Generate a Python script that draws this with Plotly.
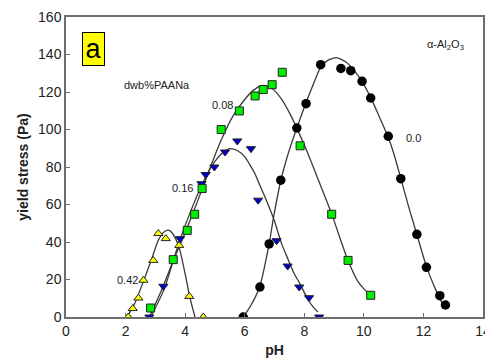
import plotly.graph_objects as go

ph_00 = [5.95, 6.51, 6.82, 7.21, 7.75, 8.06, 8.55, 9.23, 9.56, 9.94, 10.23, 10.82, 11.24, 11.78, 12.10, 12.55, 12.74]
ys_00 = [0, 16, 39, 73, 100.8, 113.8, 134.6, 132.6, 131.4, 125.7, 116.8, 96.4, 73.8, 44.1, 26.5, 11.4, 6.4]

ph_008 = [2.84, 3.60, 4.07, 4.32, 4.57, 5.21, 5.82, 6.35, 6.62, 6.92, 7.26, 7.86, 8.92, 9.47, 10.23]
ys_008 = [4.8, 30.6, 46.2, 54.8, 68.5, 100.0, 109.9, 117.9, 121.3, 123.9, 130.5, 91.3, 54.8, 30.2, 11.6]

ph_016 = [2.80, 3.27, 3.83, 4.55, 4.69, 4.98, 5.34, 5.75, 6.21, 6.45, 7.07, 7.44, 7.83, 8.16, 8.50]
ys_016 = [0, 16.4, 41.8, 71.1, 76.0, 80.0, 88.0, 93.9, 89.8, 62.3, 40.7, 27.2, 16.0, 10.3, 0]

ph_042 = [2.09, 2.24, 2.43, 2.60, 2.93, 3.10, 3.35, 3.80, 4.14, 4.61]
ys_042 = [0, 4.5, 10.1, 19.6, 30.2, 44.5, 41.8, 38.2, 11.0, 0]

# ---- fitted curves ----
fit_ph_00 = [5.95, 6.2, 6.5, 6.82, 6.96, 7.2, 7.4, 7.6, 7.8, 8.05, 8.3, 8.56, 8.8, 9.08, 9.4, 9.7,
             9.94, 10.23, 10.5, 10.8, 11.0, 11.24, 11.5, 11.78, 12.1, 12.4, 12.7]
fit_ys_00 = [0, 6, 16, 39, 52.5, 72, 84, 94, 103, 114, 124, 133.5, 137, 138.3, 136, 131,
             125.5, 117, 107.5, 96.5, 87.5, 74, 59, 44, 27, 15, 5]

fit_ph_008 = [2.8, 3.2, 3.6, 4.0, 4.4, 4.8, 5.2, 5.6, 6.0, 6.3, 6.6, 6.9, 7.2, 7.5, 7.74,
              8.1, 8.5, 8.92, 9.2, 9.47, 9.8, 10.0, 10.23]
fit_ys_008 = [0, 14, 30, 45, 61, 78, 94, 107, 116, 121, 123.5, 122, 117, 109, 101,
              88, 72, 55, 42, 30, 19, 15, 11.6]

fit_ph_016 = [2.85, 3.3, 3.8, 4.2, 4.55, 4.8, 5.0, 5.25, 5.5, 5.75, 6.01, 6.2, 6.34, 6.5,
              6.68, 6.99, 7.24, 7.45, 7.65, 7.85, 8.1, 8.3, 8.46]
fit_ys_016 = [0, 15, 40, 57, 70, 78, 83, 87.5, 89.8, 88.8, 85.3, 80.5, 76.5, 70.5,
              64, 51.6, 39, 31, 23.5, 17.8, 10, 5.3, 2.7]

fit_ph_042 = [2.05, 2.3, 2.6, 2.9, 3.1, 3.3, 3.45, 3.6, 3.8, 4.0, 4.15, 4.33]
fit_ys_042 = [0, 7, 19, 32, 41, 45.5, 46.3, 44, 37, 23, 11, 0]

x_ticks = [0, 2, 4, 6, 8, 10, 12, 14]
y_ticks = [0, 20, 40, 60, 80, 100, 120, 140, 160]

FONT = "Liberation Sans, Arial, Helvetica, sans-serif"
CURVE = dict(color="#3a3a3a", width=1.3, shape="spline", smoothing=0.6)

fig = go.Figure()

for fx, fy in [(fit_ph_00, fit_ys_00), (fit_ph_008, fit_ys_008),
               (fit_ph_016, fit_ys_016), (fit_ph_042, fit_ys_042)]:
    fig.add_trace(go.Scatter(x=fx, y=fy, mode="lines", line=CURVE,
                             hoverinfo="skip", showlegend=False))

fig.add_trace(go.Scatter(x=ph_042, y=ys_042, mode="markers", name="0.42",
                         marker=dict(symbol="triangle-up", size=8, color="#ffff00",
                                     line=dict(color="#222", width=1))))
fig.add_trace(go.Scatter(x=ph_016, y=ys_016, mode="markers", name="0.16",
                         marker=dict(symbol="triangle-down", size=8, color="#0000cc",
                                     line=dict(color="#222", width=1))))
fig.add_trace(go.Scatter(x=ph_008, y=ys_008, mode="markers", name="0.08",
                         marker=dict(symbol="square", size=8, color="#00ee00",
                                     line=dict(color="#222", width=1))))
fig.add_trace(go.Scatter(x=ph_00, y=ys_00, mode="markers", name="0.0",
                         marker=dict(symbol="circle", size=9.5, color="#000000",
                                     line=dict(color="#000", width=0))))

ann = [
    dict(x=0.92, y=142.9, text="a", font=dict(size=27, color="#000", family=FONT),
         bgcolor="#ffff00", bordercolor="#000", borderwidth=1, borderpad=0,
         width=21, height=32, showarrow=False),
    dict(x=3.04, y=123.6, text="dwb%PAANa", font=dict(size=11, color="#222", family=FONT), showarrow=False),
    dict(x=5.25, y=113.3, text="0.08", font=dict(size=11, color="#222", family=FONT), showarrow=False),
    dict(x=3.92, y=69.0, text="0.16", font=dict(size=11, color="#222", family=FONT), showarrow=False),
    dict(x=2.08, y=19.9, text="0.42", font=dict(size=11, color="#222", family=FONT), showarrow=False),
    dict(x=11.66, y=95.5, text="0.0", font=dict(size=11, color="#222", family=FONT), showarrow=False),
    dict(x=12.75, y=145.3, text="α-Al<sub>2</sub>O<sub>3</sub>",
         font=dict(size=11, color="#222", family=FONT), showarrow=False),
]

axis_common = dict(showline=True, linecolor="#6e6e6e", linewidth=1.5, mirror=True,
                   ticks="inside", ticklen=4, tickcolor="#6e6e6e", tickwidth=1,
                   showgrid=False, zeroline=False, automargin=False,
                   tickfont=dict(size=14, color="#222", family=FONT))

# page body has an 8px margin, so the figure is sized/offset to land the
# plot area where the reference has it
fig.update_layout(
    width=485, height=350,
    margin=dict(l=58, r=10, t=9, b=41, autoexpand=False),
    paper_bgcolor="white", plot_bgcolor="white",
    showlegend=False,
    font=dict(family=FONT),
    annotations=ann,
    xaxis=dict(range=[0, 14], tickvals=x_ticks,
               title=dict(text="<b>pH</b>", font=dict(size=14, color="#222", family=FONT), standoff=8),
               **axis_common),
    yaxis=dict(range=[0, 160], tickvals=y_ticks,
               title=dict(text="<b>yield stress (Pa)</b>", font=dict(size=14, color="#222", family=FONT), standoff=6),
               **axis_common),
)

fig.write_html("out.html")
